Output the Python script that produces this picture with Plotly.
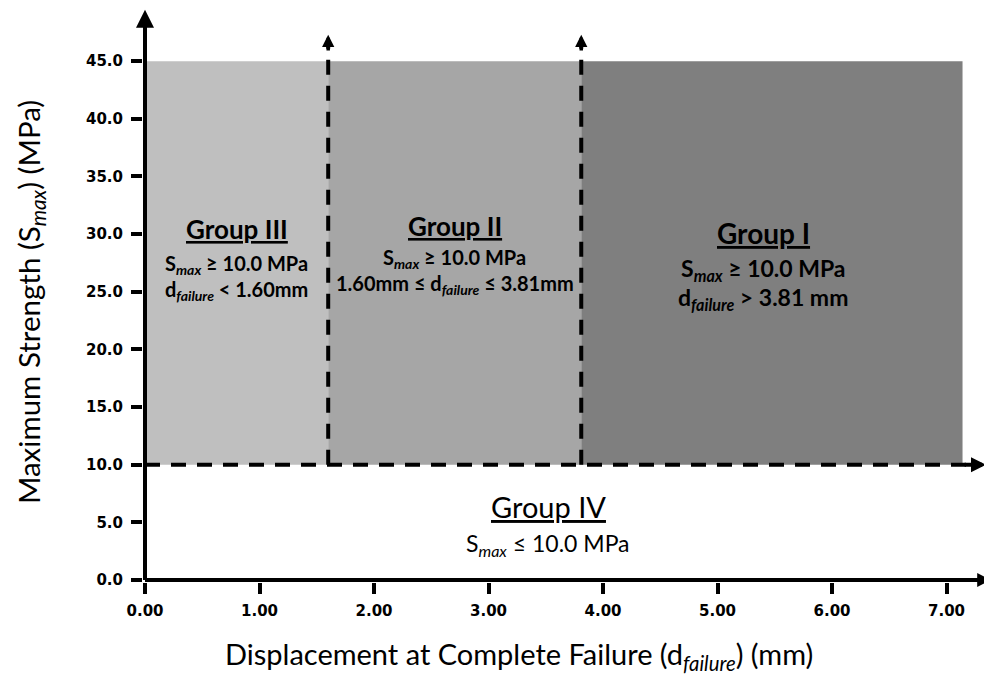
import plotly.graph_objects as go

# ---------------- data ----------------
group_names = ["Group III", "Group II", "Group I"]
x_bounds = [0.0, 1.60, 3.81, 7.14]          # d_failure boundaries (mm)
y_threshold = 10.0                           # S_max threshold (MPa)
y_top = 45.0                                 # top of shaded region (MPa)
group_colors = ["#BFBFBF", "#A6A6A6", "#7F7F7F"]
x_ticks = [0, 1, 2, 3, 4, 5, 6, 7]
x_tick_labels = ["0.00", "1.00", "2.00", "3.00", "4.00", "5.00", "6.00", "7.00"]
y_ticks = [0, 5, 10, 15, 20, 25, 30, 35, 40, 45]
y_tick_labels = ["0.0", "5.0", "10.0", "15.0", "20.0", "25.0", "30.0", "35.0", "40.0", "45.0"]

group_label_x = [0.80, 2.705, 5.40]
group_sub1 = ["S<sub><i>max</i></sub> ≥ 10.0 MPa"] * 3
group_sub2 = ["d<sub><i>failure</i></sub> < 1.60mm",
              "1.60mm ≤ d<sub><i>failure</i></sub> ≤ 3.81mm",
              "d<sub><i>failure</i></sub> > 3.81 mm"]
group_title_y = [30.4, 30.7, 30.1]
group_sub1_y = [27.4, 27.9, 26.9]
group_sub2_y = [25.1, 25.6, 24.4]

g4_name = "Group IV"
g4_sub = "S<sub><i>max</i></sub> ≤ 10.0 MPa"
g4_x = 3.52
g4_title_y = 6.35
g4_sub_y = 3.05

x_axis_end = 7.39
y_axis_end = 49.45
thr_arrow_end = 7.345
vline_arrow_end = 47.3

# ---------------- layout geometry ----------------
# page has an 8px body margin; figure coordinates = page coordinates - 8
OFF = 8
W, H = 992 - OFF, 684 - OFF
X0PX, XS = 145.0 - OFF, 114.5     # pixel of x=0, px per mm
Y0PX, YS = 580.0 - OFF, 11.53     # pixel of y=0, px per MPa
ML, MR, MT, MB = int(X0PX) - 2, 0, 0, int(H - Y0PX) - 2
xr = [-(X0PX - ML) / XS, (W - MR - X0PX) / XS]
yr = [-((H - MB) - Y0PX) / YS, (Y0PX - MT) / YS]

FONT = "Lato"
fig = go.Figure()
fig.add_trace(go.Scatter(x=[None], y=[None], showlegend=False, hoverinfo="skip"))

shapes = []
# shaded group regions
for i in range(3):
    shapes.append(dict(type="rect", xref="x", yref="y",
                       x0=x_bounds[i], x1=x_bounds[i + 1], y0=y_threshold, y1=y_top,
                       fillcolor=group_colors[i], line=dict(width=0), layer="below"))
# axis lines
shapes.append(dict(type="line", xref="x", yref="y", x0=0, x1=x_axis_end - 0.1, y0=0, y1=0,
                   line=dict(color="black", width=4)))
shapes.append(dict(type="line", xref="x", yref="y", x0=0, x1=0, y0=0, y1=y_axis_end - 1,
                   line=dict(color="black", width=4)))
# dashed threshold line
shapes.append(dict(type="line", xref="x", yref="y", x0=0, x1=thr_arrow_end - 0.12,
                   y0=y_threshold, y1=y_threshold,
                   line=dict(color="black", width=4, dash="15px,11px")))
# dashed vertical boundaries
for xb in x_bounds[1:3]:
    shapes.append(dict(type="line", xref="x", yref="y", x0=xb, x1=xb,
                       y0=y_threshold, y1=vline_arrow_end - 0.8,
                       line=dict(color="black", width=4, dash="15px,11px")))

ann = []
def arrow(xt, yt, xa, ya, w, s):
    ann.append(dict(x=xt, y=yt, ax=xa, ay=ya, xref="x", yref="y", axref="x", ayref="y",
                    text="", showarrow=True, arrowhead=2, arrowwidth=w, arrowsize=s,
                    arrowcolor="black", standoff=0, startstandoff=0))

arrow(0, y_axis_end, 0, y_axis_end - 2.0, 4, 0.9)
arrow(x_axis_end, 0, x_axis_end - 0.2, 0, 4, 0.7)
arrow(thr_arrow_end, y_threshold, thr_arrow_end - 0.2, y_threshold, 4, 0.75)
for xb in x_bounds[1:3]:
    arrow(xb, vline_arrow_end, xb, vline_arrow_end - 1.5, 3.5, 0.7)

title_sizes = [26, 26, 28]
sub_sizes = [20, 20, 23]
for i in range(3):
    ann.append(dict(x=group_label_x[i], y=group_title_y[i], xref="x", yref="y",
                    text="<b><u>" + group_names[i] + "</u></b>", showarrow=False,
                    font=dict(family=FONT, size=title_sizes[i], color="black")))
    ann.append(dict(x=group_label_x[i], y=group_sub1_y[i], xref="x", yref="y",
                    text="<b>" + group_sub1[i] + "</b>", showarrow=False,
                    font=dict(family=FONT, size=sub_sizes[i], color="black")))
    ann.append(dict(x=group_label_x[i], y=group_sub2_y[i], xref="x", yref="y",
                    text="<b>" + group_sub2[i] + "</b>", showarrow=False,
                    font=dict(family=FONT, size=sub_sizes[i], color="black")))

ann.append(dict(x=g4_x, y=g4_title_y, xref="x", yref="y", text="<u>" + g4_name + "</u>",
                showarrow=False, font=dict(family=FONT, size=29, color="black")))
ann.append(dict(x=g4_x, y=g4_sub_y, xref="x", yref="y", text=g4_sub,
                showarrow=False, font=dict(family=FONT, size=23, color="black")))

# axis titles (positions in page pixels converted to figure paper coords)
plot_w = W - ML - MR
plot_h = H - MT - MB
ann.append(dict(x=(519 - OFF - ML) / plot_w, y=0, xref="paper", yref="paper",
                xanchor="center", yanchor="middle",
                yshift=-(655 - OFF - (H - MB)),
                text="Displacement at Complete Failure (d<sub><i>failure</i></sub>) (mm)",
                showarrow=False, font=dict(family=FONT, size=29, color="black")))
ann.append(dict(x=0, y=((H - MB) - (302 - OFF)) / plot_h, xref="paper", yref="paper",
                xanchor="center", yanchor="middle",
                xshift=-(ML - (30 - OFF)),
                text="Maximum Strength (S<sub><i>max</i></sub>) (MPa)", textangle=-90,
                showarrow=False, font=dict(family=FONT, size=29.5, color="black")))

tickfont = dict(family="DejaVu Sans", size=15, color="black")
fig.update_layout(
    width=W, height=H,
    margin=dict(l=ML, r=MR, t=MT, b=MB, pad=0),
    paper_bgcolor="white", plot_bgcolor="white",
    showlegend=False,
    shapes=shapes, annotations=ann,
    xaxis=dict(range=xr, tickmode="array", tickvals=x_ticks,
               ticktext=["<b>" + t + "</b>" for t in x_tick_labels],
               ticks="outside", ticklen=11, tickwidth=4, tickcolor="black",
               ticklabelstandoff=4,
               showgrid=False, zeroline=False, showline=False, tickfont=tickfont,
               fixedrange=True),
    yaxis=dict(range=yr, tickmode="array", tickvals=y_ticks,
               ticktext=["<b>" + t + "</b>" for t in y_tick_labels],
               ticks="outside", ticklen=11, tickwidth=4, tickcolor="black",
               ticklabelstandoff=5,
               showgrid=False, zeroline=False, showline=False, tickfont=tickfont,
               fixedrange=True),
)

fig.write_html("out.html")
